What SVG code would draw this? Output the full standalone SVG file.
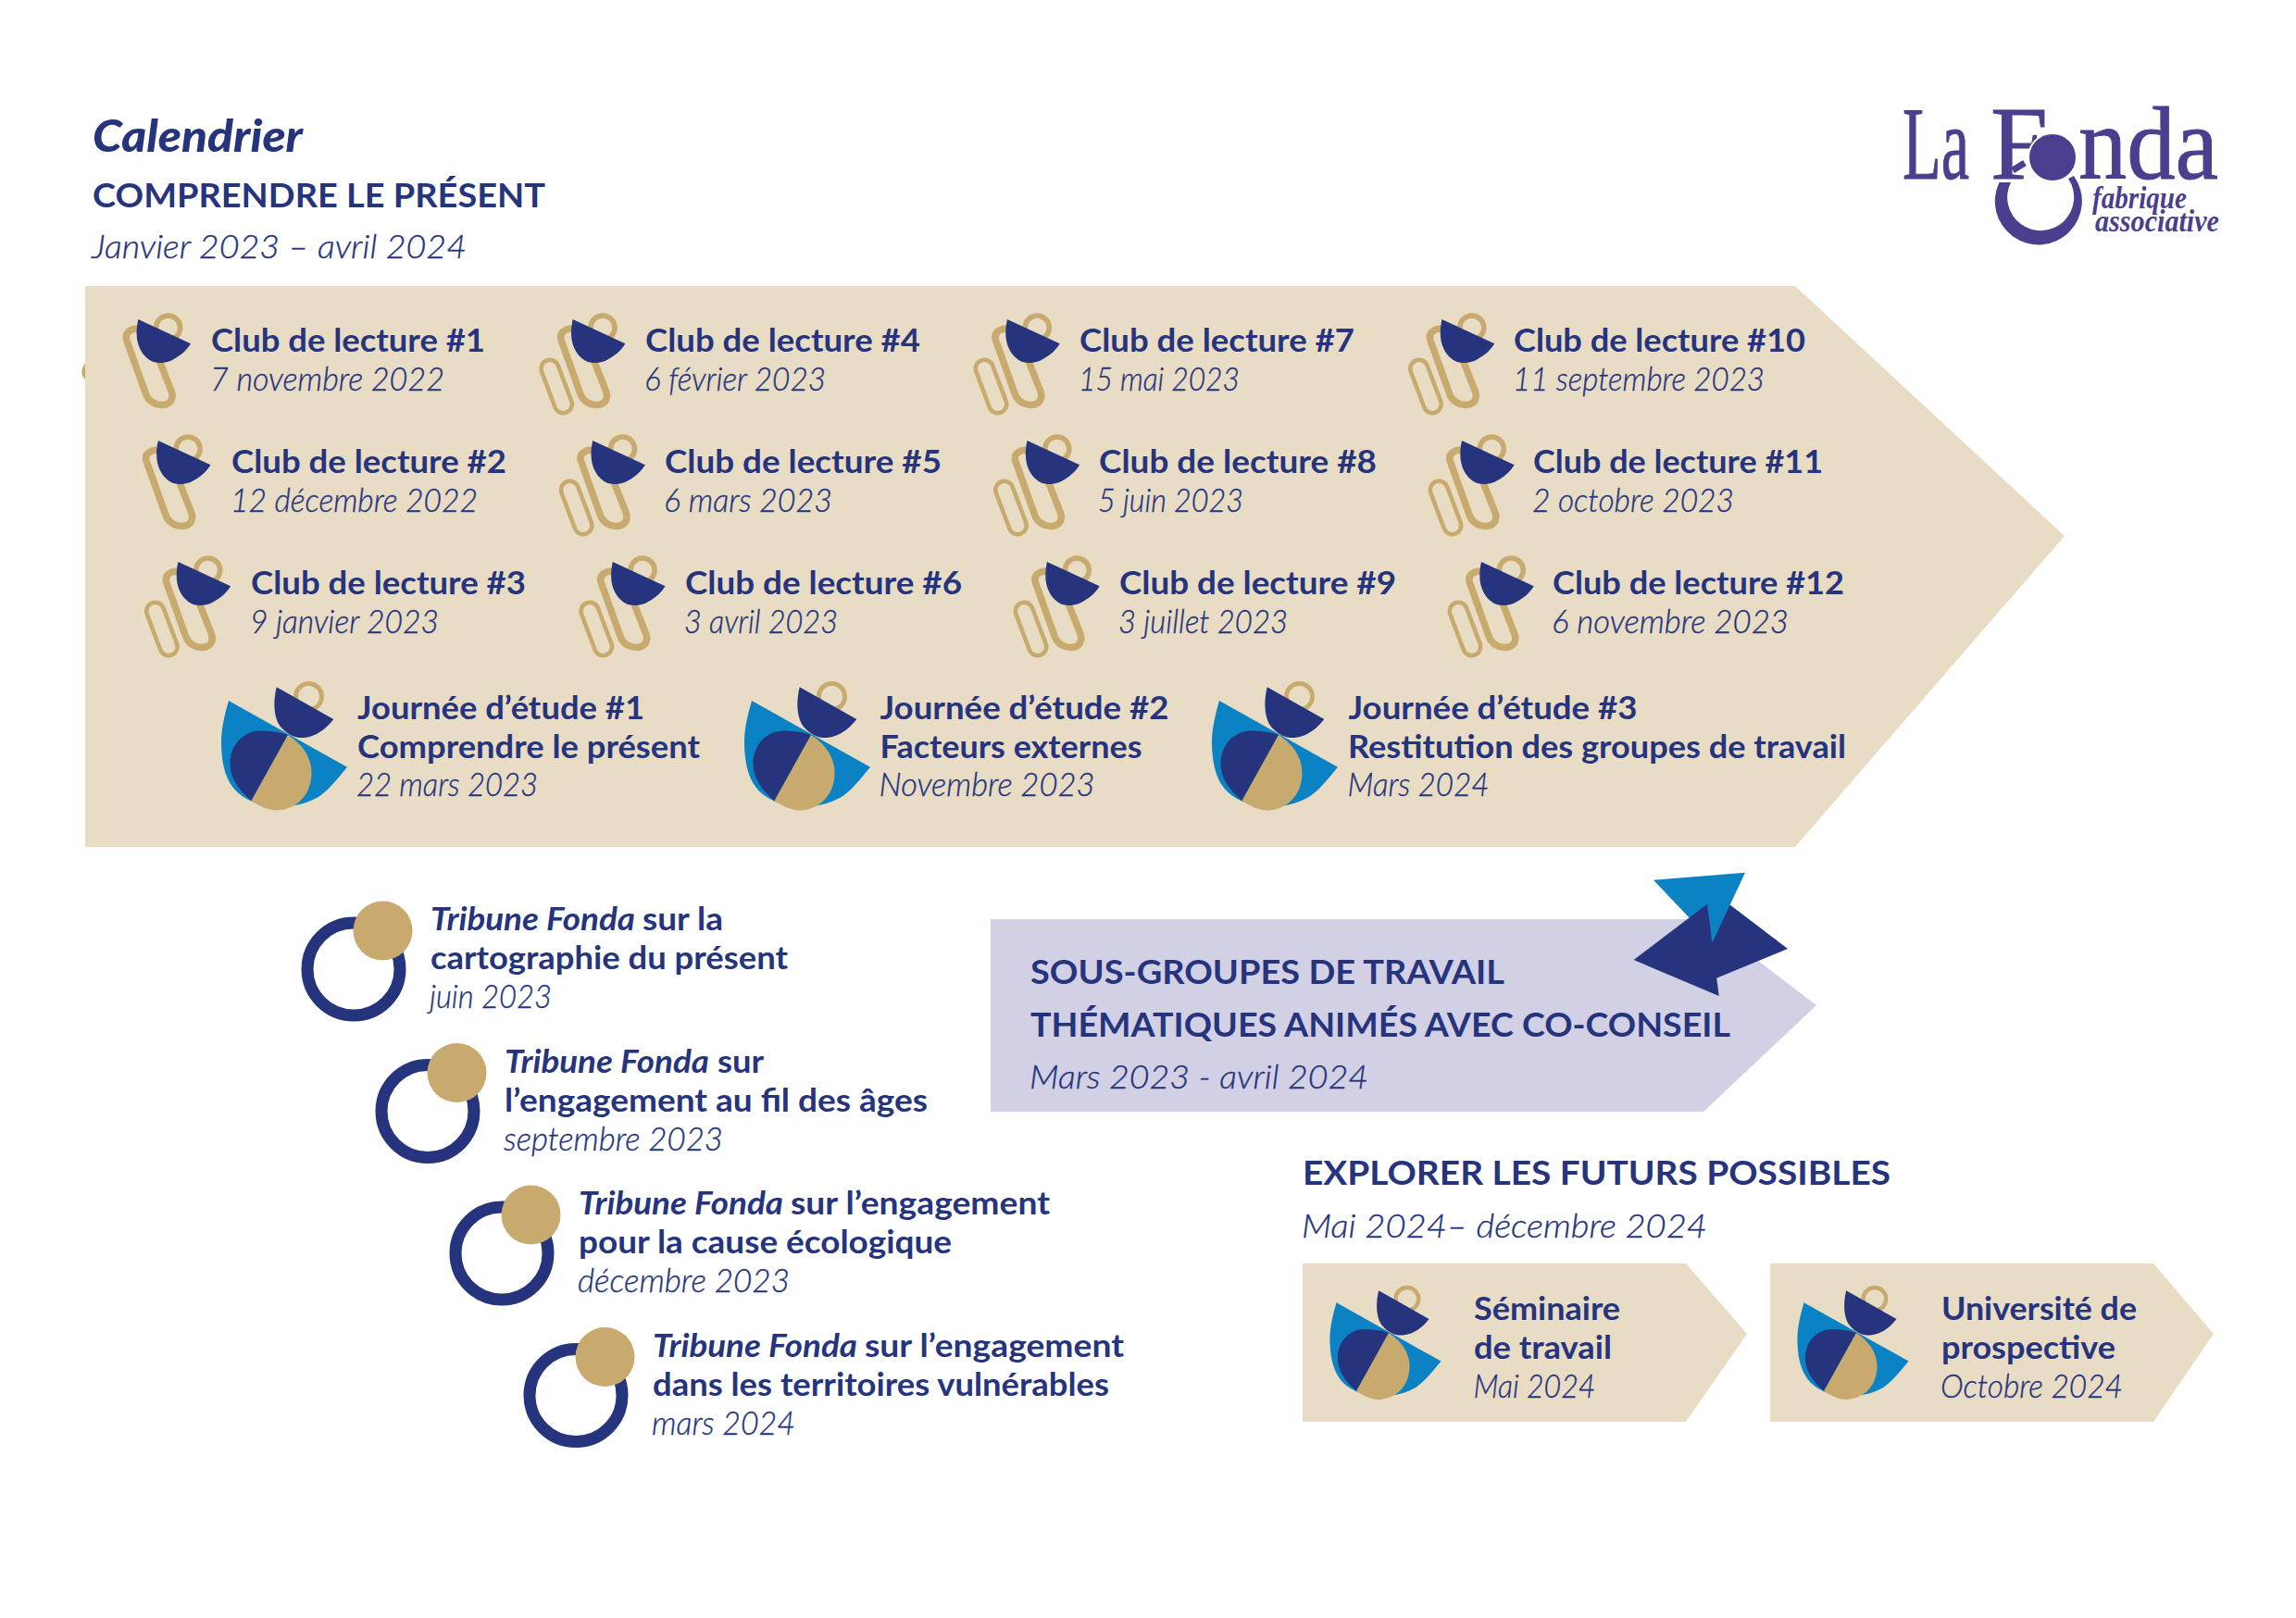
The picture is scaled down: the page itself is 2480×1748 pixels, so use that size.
<svg xmlns="http://www.w3.org/2000/svg" width="2480" height="1748" viewBox="0 0 2480 1748">
<style>
text{font-family:Lato,"Open Sans",sans-serif;fill:#25347d}
.t{font-size:35px;font-weight:700}
.d{font-size:36px;font-weight:300;font-style:italic;stroke:#25347d;stroke-width:.35px}
.h{font-size:37px;font-weight:700}
.i{font-weight:700;font-style:italic;font-size:35px}
.c{fill:none;stroke:#c8a96e}
.bg{fill:#e8dcc4}
.n{fill:#25347d}
.logo{font-family:"Liberation Serif",serif;fill:#4a3f8f;font-size:113px;stroke:#4a3f8f;stroke-width:1px}
.logo2{font-family:"Liberation Serif",serif;fill:#4a3f8f;font-size:33px;font-style:italic;font-weight:700}
</style>
<defs>
<g id="clip">
<path class="c" stroke-width="7.5" d="M0.3 10C-9 10-15 15-12.7 22L8 80C14 98 42 96 36 78L23 45"/>
<circle class="c" stroke-width="5.5" cx="32.3" cy="9" r="13"/>
<path class="n" d="M0 0L56.7 26.3C52 34 46 39 36.3 44.3C30 47 27 47 23 47C17 47 14 45 11.3 43.3C4 38-1.7 28-1.7 15C-1.7 9-1 5 0 0Z"/>
</g>
<rect id="small" class="c" stroke-width="4.5" x="-27" y="42.5" width="19" height="60" rx="9.5" transform="rotate(-20.6 -17.5 72.5)"/>
<g id="jour">
<path fill="#0a82c3" d="M0 0L128 71.7C116 86 106 99 95 105C82 112 66 115 51.7 114.5C32 114 14 106 4.5 93.6C-5 81-8 63-8 44.5C-8 30-4 14 0 0Z"/>
<circle class="c" stroke-width="5" cx="86.5" cy="-4.5" r="14"/>
<path class="n" d="M51.7 -14.7L113.3 20C107 28 99 35 90 38C84 40 81 40 78 40C68 40 60 33 55.5 27.5C50 20 47 5 51.7 -14.7Z"/>
<path class="n" d="M64 37L24.5 108C10 96 1 82 1.5 67C2 46 18 31 37 32.5C47 33 56 34 64 37Z"/>
<path fill="#c8a96e" d="M64 37C80 47 90 62 89.5 79C89 103 72 118 52 118.5C42 118.5 32 113 24.5 108Z"/>
</g>
<g id="trib">
<circle cx="0" cy="0" r="50" fill="none" stroke="#25347d" stroke-width="13"/>
<circle cx="31.5" cy="-41.5" r="32" fill="#c8a96e"/>
</g>
</defs>

<g id="band">
<path fill="#c8a96e" d="M92 393C87 398 87 406 92 410Z"/>
<polygon class="bg" points="92,309 1939,309 2230,579 1939,915 92,915"/>
</g>

<g id="heading">
<text x="100" y="164" font-size="48" font-weight="900" font-style="italic" textLength="227" lengthAdjust="spacingAndGlyphs">Calendrier</text>
<text class="h" x="100" y="224" textLength="489" lengthAdjust="spacingAndGlyphs">COMPRENDRE LE PRÉSENT</text>
<text class="d" x="99" y="279" font-size="37" textLength="405" lengthAdjust="spacingAndGlyphs">Janvier 2023 – avril 2024</text>
</g>

<g id="logo">
<text class="logo" x="2055" y="193" textLength="72" lengthAdjust="spacingAndGlyphs">La</text>
<text class="logo" x="2150" y="193" textLength="62" lengthAdjust="spacingAndGlyphs">F</text>
<text class="logo" x="2245" y="193" textLength="151" lengthAdjust="spacingAndGlyphs">nda</text>
<circle cx="2217" cy="170" r="26" fill="#4a3f8f" stroke="#fff" stroke-width="2"/>
<path fill="#4a3f8f" d="M2159.5 197A47 47 0 1 0 2240 190L2234 193A36 36 0 1 1 2172 197Z"/>
<path d="M2174 184L2187 176" stroke="#4a3f8f" stroke-width="7" fill="none"/>
<text class="logo2" x="2260" y="225" textLength="102" lengthAdjust="spacingAndGlyphs">fabrique</text>
<text class="logo2" x="2263" y="250" textLength="134" lengthAdjust="spacingAndGlyphs">associative</text>
</g>

<g id="club1"><use href="#clip" x="149.3" y="345"/><text class="t" x="228" y="380" textLength="296" lengthAdjust="spacingAndGlyphs">Club de lecture #1</text><text class="d" x="227" y="422" textLength="253" lengthAdjust="spacingAndGlyphs">7 novembre 2022</text></g>
<g id="club4"><use href="#small" x="618.7" y="345"/><use href="#clip" x="618.7" y="345"/><text class="t" x="697" y="380" textLength="297" lengthAdjust="spacingAndGlyphs">Club de lecture #4</text><text class="d" x="696" y="422" textLength="196" lengthAdjust="spacingAndGlyphs">6 février 2023</text></g>
<g id="club7"><use href="#small" x="1088" y="345"/><use href="#clip" x="1088" y="345"/><text class="t" x="1166" y="380" textLength="297" lengthAdjust="spacingAndGlyphs">Club de lecture #7</text><text class="d" x="1165" y="422" textLength="174" lengthAdjust="spacingAndGlyphs">15 mai 2023</text></g>
<g id="club10"><use href="#small" x="1557.5" y="345"/><use href="#clip" x="1557.5" y="345"/><text class="t" x="1635" y="380" textLength="315" lengthAdjust="spacingAndGlyphs">Club de lecture #10</text><text class="d" x="1634" y="422" textLength="272" lengthAdjust="spacingAndGlyphs">11 septembre 2023</text></g>

<g id="club2"><use href="#clip" x="170.8" y="476"/><text class="t" x="250" y="511" textLength="297" lengthAdjust="spacingAndGlyphs">Club de lecture #2</text><text class="d" x="249" y="553" textLength="267" lengthAdjust="spacingAndGlyphs">12 décembre 2022</text></g>
<g id="club5"><use href="#small" x="640.2" y="476"/><use href="#clip" x="640.2" y="476"/><text class="t" x="718" y="511" textLength="299" lengthAdjust="spacingAndGlyphs">Club de lecture #5</text><text class="d" x="717" y="553" textLength="182" lengthAdjust="spacingAndGlyphs">6 mars 2023</text></g>
<g id="club8"><use href="#small" x="1109.5" y="476"/><use href="#clip" x="1109.5" y="476"/><text class="t" x="1187" y="511" textLength="300" lengthAdjust="spacingAndGlyphs">Club de lecture #8</text><text class="d" x="1186" y="553" textLength="157" lengthAdjust="spacingAndGlyphs">5 juin 2023</text></g>
<g id="club11"><use href="#small" x="1579" y="476"/><use href="#clip" x="1579" y="476"/><text class="t" x="1656" y="511" textLength="313" lengthAdjust="spacingAndGlyphs">Club de lecture #11</text><text class="d" x="1655" y="553" textLength="218" lengthAdjust="spacingAndGlyphs">2 octobre 2023</text></g>

<g id="club3"><use href="#small" x="192.4" y="607"/><use href="#clip" x="192.4" y="607"/><text class="t" x="271" y="642" textLength="297" lengthAdjust="spacingAndGlyphs">Club de lecture #3</text><text class="d" x="270" y="684" textLength="204" lengthAdjust="spacingAndGlyphs">9 janvier 2023</text></g>
<g id="club6"><use href="#small" x="661.8" y="607"/><use href="#clip" x="661.8" y="607"/><text class="t" x="740" y="642" textLength="299" lengthAdjust="spacingAndGlyphs">Club de lecture #6</text><text class="d" x="739" y="684" textLength="166" lengthAdjust="spacingAndGlyphs">3 avril 2023</text></g>
<g id="club9"><use href="#small" x="1131" y="607"/><use href="#clip" x="1131" y="607"/><text class="t" x="1209" y="642" textLength="299" lengthAdjust="spacingAndGlyphs">Club de lecture #9</text><text class="d" x="1208" y="684" textLength="183" lengthAdjust="spacingAndGlyphs">3 juillet 2023</text></g>
<g id="club12"><use href="#small" x="1600" y="607"/><use href="#clip" x="1600" y="607"/><text class="t" x="1677" y="642" textLength="315" lengthAdjust="spacingAndGlyphs">Club de lecture #12</text><text class="d" x="1676" y="684" textLength="256" lengthAdjust="spacingAndGlyphs">6 novembre 2023</text></g>

<g id="journee1"><use href="#jour" x="247" y="757"/><text class="t" x="386" y="777" textLength="310" lengthAdjust="spacingAndGlyphs">Journée d’étude #1</text><text class="t" x="386" y="819" textLength="370" lengthAdjust="spacingAndGlyphs">Comprendre le présent</text><text class="d" x="385" y="860" textLength="196" lengthAdjust="spacingAndGlyphs">22 mars 2023</text></g>
<g id="journee2"><use href="#jour" x="812" y="757"/><text class="t" x="950.5" y="777" textLength="312" lengthAdjust="spacingAndGlyphs">Journée d’étude #2</text><text class="t" x="950.5" y="819" textLength="283" lengthAdjust="spacingAndGlyphs">Facteurs externes</text><text class="d" x="949.5" y="860" textLength="233" lengthAdjust="spacingAndGlyphs">Novembre 2023</text></g>
<g id="journee3"><use href="#jour" x="1317" y="757"/><text class="t" x="1456.5" y="777" textLength="312" lengthAdjust="spacingAndGlyphs">Journée d’étude #3</text><text class="t" x="1456" y="819" textLength="538" lengthAdjust="spacingAndGlyphs">Restitution des groupes de travail</text><text class="d" x="1455.5" y="860" textLength="153" lengthAdjust="spacingAndGlyphs">Mars 2024</text></g>

<g id="tribune1"><use href="#trib" x="382" y="1047"/><text class="i" x="465" y="1005" textLength="221" lengthAdjust="spacingAndGlyphs">Tribune Fonda</text><text class="t" x="694" y="1005" textLength="87" lengthAdjust="spacingAndGlyphs">sur la</text><text class="t" x="465" y="1047" textLength="386" lengthAdjust="spacingAndGlyphs">cartographie du présent</text><text class="d" x="464" y="1089" textLength="132" lengthAdjust="spacingAndGlyphs">juin 2023</text></g>
<g id="tribune2"><use href="#trib" x="462" y="1200.5"/><text class="i" x="545" y="1158.5" textLength="221" lengthAdjust="spacingAndGlyphs">Tribune Fonda</text><text class="t" x="775" y="1158.5" textLength="50" lengthAdjust="spacingAndGlyphs">sur</text><text class="t" x="545" y="1200.5" textLength="457" lengthAdjust="spacingAndGlyphs">l’engagement au fil des âges</text><text class="d" x="544" y="1242.5" textLength="237" lengthAdjust="spacingAndGlyphs">septembre 2023</text></g>
<g id="tribune3"><use href="#trib" x="542" y="1354"/><text class="i" x="625" y="1312" textLength="221" lengthAdjust="spacingAndGlyphs">Tribune Fonda</text><text class="t" x="854" y="1312" textLength="280" lengthAdjust="spacingAndGlyphs">sur l’engagement</text><text class="t" x="625" y="1354" textLength="403" lengthAdjust="spacingAndGlyphs">pour la cause écologique</text><text class="d" x="624" y="1396" textLength="229" lengthAdjust="spacingAndGlyphs">décembre 2023</text></g>
<g id="tribune4"><use href="#trib" x="622" y="1507.5"/><text class="i" x="705" y="1465.5" textLength="221" lengthAdjust="spacingAndGlyphs">Tribune Fonda</text><text class="t" x="934" y="1465.5" textLength="280" lengthAdjust="spacingAndGlyphs">sur l’engagement</text><text class="t" x="705" y="1507.5" textLength="493" lengthAdjust="spacingAndGlyphs">dans les territoires vulnérables</text><text class="d" x="704" y="1549.5" textLength="155" lengthAdjust="spacingAndGlyphs">mars 2024</text></g>

<g id="sous-groupes">
<polygon fill="#d2d0e5" points="1070,993 1840,993 1962,1086 1840,1201 1070,1201"/>
<polygon class="n" points="1869,977.7 1931,1025 1854,1056.7 1840,1000"/>
<polygon fill="#0a82c3" points="1786,950.7 1885,942.7 1849.7,1018"/>
<polygon class="n" points="1844,976.7 1764.7,1037 1856.7,1076"/>
<text class="h" x="1113" y="1063" textLength="512" lengthAdjust="spacingAndGlyphs">SOUS-GROUPES DE TRAVAIL</text>
<text class="h" x="1113" y="1120" textLength="756" lengthAdjust="spacingAndGlyphs">THÉMATIQUES ANIMÉS AVEC CO-CONSEIL</text>
<text class="d" x="1112" y="1176" font-size="37" textLength="366" lengthAdjust="spacingAndGlyphs">Mars 2023 - avril 2024</text>
</g>

<g id="explorer">
<text class="h" x="1407" y="1280" textLength="635" lengthAdjust="spacingAndGlyphs">EXPLORER LES FUTURS POSSIBLES</text>
<text class="d" x="1406" y="1337" font-size="37" textLength="438" lengthAdjust="spacingAndGlyphs">Mai 2024– décembre 2024</text>
</g>

<g id="seminaire">
<polygon class="bg" points="1407,1365 1821,1365 1887,1441 1821,1536 1407,1536"/>
<use href="#jour" transform="translate(1443.5 1407.3) scale(.883)"/>
<text class="t" x="1592" y="1426" textLength="158" lengthAdjust="spacingAndGlyphs">Séminaire</text>
<text class="t" x="1592" y="1468" textLength="149" lengthAdjust="spacingAndGlyphs">de travail</text>
<text class="d" x="1591.5" y="1510" textLength="132" lengthAdjust="spacingAndGlyphs">Mai 2024</text>
</g>
<g id="universite">
<polygon class="bg" points="1912,1365 2326,1365 2391,1441 2326,1536 1912,1536"/>
<use href="#jour" transform="translate(1948.5 1407.3) scale(.883)"/>
<text class="t" x="2097" y="1426" textLength="211" lengthAdjust="spacingAndGlyphs">Université de</text>
<text class="t" x="2097" y="1468" textLength="188" lengthAdjust="spacingAndGlyphs">prospective</text>
<text class="d" x="2096" y="1510" textLength="197" lengthAdjust="spacingAndGlyphs">Octobre 2024</text>
</g>
<g id="connectors"/>
</svg>
